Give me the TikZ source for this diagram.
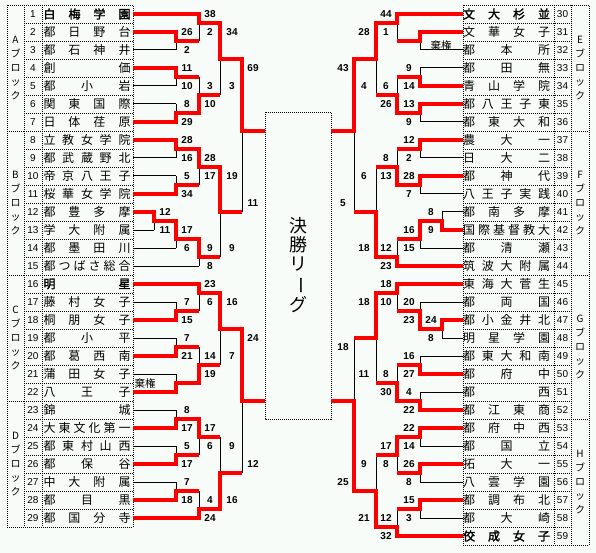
\documentclass[tikz,border=0pt]{standalone}
\usepackage{fontspec}
\setsansfont{Liberation Sans}
\newfontfamily\jp[AutoFakeBold=2]{Noto Sans CJK JP}
\definecolor{paper}{RGB}{248,252,248}
\definecolor{winred}{RGB}{255,0,0}

\makeatletter
\def\spr@ad#1#2\@nil{#1\ifx\relax#2\relax\else\hfill\spr@ad#2\@nil\fi}
\newcommand\spreadname[1]{\edef\sp@nm{#1}\makebox[87pt][s]{\expandafter\spr@ad\sp@nm\@nil}}
\makeatother

\tikzset{
	bk/.style={black, line width=1pt},
	win/.style={winred, line width=4pt},
	cell/.style={black, line width=0.8pt, dash pattern=on 1pt off 1pt},
	score/.style={font=\sffamily\bfseries\fontsize{10}{10}\selectfont, inner sep=0pt},
	num/.style={font=\sffamily\fontsize{10}{10}\selectfont, inner sep=0pt},
	team/.style={font=\jp\fontsize{12}{12}\selectfont, inner sep=0pt},
	blk/.style={font=\jp\fontsize{10}{14}\selectfont, align=center, inner sep=0pt},
}

\begin{document}
\begin{tikzpicture}[x=1pt, y=-1pt]
	\fill[paper] (0,0) rectangle (596,553);
	\useasboundingbox (0,0) rectangle (596,553);
	% tables
	\draw[cell] (7,5) rectangle (133,527);
	\draw[cell] (24,5) -- (24,527) (42,5) -- (42,527);
	\foreach \k in {1,...,28} \draw[cell] (24,{5+18*\k}) -- (133,{5+18*\k});
	\foreach \y in {131,275,401} \draw[cell] (7,\y) -- (24,\y);
	\draw[cell] (463,5) rectangle (589,545);
	\draw[cell] (554,5) -- (554,545) (571,5) -- (571,545);
	\foreach \k in {1,...,29} \draw[cell] (463,{5+18*\k}) -- (571,{5+18*\k});
	\foreach \y in {131,275,419} \draw[cell] (571,\y) -- (589,\y);
	\draw[cell] (265,112) rectangle (331,419);
	% bracket, horizontal lines
	\foreach \xa/\xb/\ys in {133/199/{14,266,284,518}, 133/176/{32,50,68,86,104,122,140,158,176,194,248,302,320,338,356,374,392,410,428,446,464,482,500},
		133/154/{212,230}, 154/176/{221}, 176/199/{41,77,113,149,185,239,311,347,383,419,455,491}, 199/220/{23,95,167,257,293,365,437,509},
		220/242/{59,212,329,473}, 242/265/{131,401},
		463/397/{14,266,284,536}, 463/420/{32,50,68,86,104,122,140,158,176,194,248,302,356,374,392,410,428,446,464,482,500,518},
		463/442/{212,230,320,338}, 442/420/{221,329}, 420/397/{41,77,113,149,185,239,311,365,401,437,473,509}, 397/376/{23,95,167,257,293,383,455,527},
		376/354/{59,212,338,491}, 354/331/{131,401}}
		\foreach \y in \ys \draw[bk] (\xa,\y) -- (\xb,\y);
	% bracket, vertical lines
	\foreach \x/\spans in {154/{212/230}, 176/{32/50,68/86,104/122,140/158,176/194,221/248,302/320,338/356,374/392,410/428,446/464,482/500},
		199/{14/41,77/113,149/185,239/266,284/311,347/383,419/455,491/518}, 220/{23/95,167/257,293/365,437/509}, 242/{59/212,329/473},
		442/{212/230,320/338}, 420/{32/50,68/86,104/122,140/158,176/194,221/248,302/329,356/374,392/410,428/446,464/482,500/518},
		397/{14/41,77/113,149/185,239/266,284/311,365/401,437/473,509/536}, 376/{23/95,167/257,293/383,455/527}, 354/{59/212,338/491}}
		\foreach \a/\b in \spans \draw[bk] (\x,\a) -- (\x,\b);
	% winners, left
	\draw[win] (133,14) -- (199,14) -- (199,23) -- (220,23) -- (220,59) -- (242,59) -- (242,131) -- (265,131);
	\draw[win] (133,32) -- (176,32) -- (176,41) -- (199,41);
	\draw[win] (133,68) -- (176,68) -- (176,77) -- (199,77);
	\draw[win] (133,122) -- (176,122) -- (176,113) -- (199,113) -- (199,95) -- (220,95);
	\draw[win] (133,140) -- (176,140) -- (176,149) -- (199,149) -- (199,167) -- (220,167) -- (220,212) -- (242,212);
	\draw[win] (133,194) -- (176,194) -- (176,185) -- (199,185);
	\draw[win] (133,212) -- (154,212) -- (154,221) -- (176,221) -- (176,239) -- (199,239) -- (199,257) -- (220,257);
	\draw[win] (133,284) -- (199,284) -- (199,293) -- (220,293) -- (220,329) -- (242,329) -- (242,401) -- (265,401);
	\draw[win] (133,320) -- (176,320) -- (176,311) -- (199,311);
	\draw[win] (133,356) -- (176,356) -- (176,347) -- (199,347);
	\draw[win] (133,392) -- (176,392) -- (176,383) -- (199,383) -- (199,365) -- (220,365);
	\draw[win] (133,428) -- (176,428) -- (176,419) -- (199,419) -- (199,437) -- (220,437);
	\draw[win] (133,464) -- (176,464) -- (176,455) -- (199,455);
	\draw[win] (133,500) -- (176,500) -- (176,491) -- (199,491);
	\draw[win] (133,518) -- (199,518) -- (199,509) -- (220,509) -- (220,473) -- (242,473);
	% winners, right
	\draw[win] (463,14) -- (397,14) -- (397,23) -- (376,23) -- (376,59) -- (354,59) -- (354,131) -- (331,131);
	\draw[win] (463,32) -- (420,32) -- (420,41) -- (397,41);
	\draw[win] (463,86) -- (420,86) -- (420,77) -- (397,77);
	\draw[win] (463,104) -- (420,104) -- (420,113) -- (397,113) -- (397,95) -- (376,95);
	\draw[win] (463,140) -- (420,140) -- (420,149) -- (397,149);
	\draw[win] (463,176) -- (420,176) -- (420,185) -- (397,185) -- (397,167) -- (376,167);
	\draw[win] (463,230) -- (442,230) -- (442,221) -- (420,221) -- (420,239) -- (397,239);
	\draw[win] (463,266) -- (397,266) -- (397,257) -- (376,257) -- (376,212) -- (354,212);
	\draw[win] (463,284) -- (397,284) -- (397,293) -- (376,293) -- (376,338) -- (354,338);
	\draw[win] (463,320) -- (442,320) -- (442,329) -- (420,329) -- (420,311) -- (397,311);
	\draw[win] (463,374) -- (420,374) -- (420,365) -- (397,365);
	\draw[win] (463,410) -- (420,410) -- (420,401) -- (397,401) -- (397,383) -- (376,383);
	\draw[win] (463,428) -- (420,428) -- (420,437) -- (397,437) -- (397,455) -- (376,455);
	\draw[win] (463,464) -- (420,464) -- (420,473) -- (397,473);
	\draw[win] (463,500) -- (420,500) -- (420,509) -- (397,509);
	\draw[win] (463,536) -- (397,536) -- (397,527) -- (376,527) -- (376,491) -- (354,491) -- (354,401) -- (331,401);
	% teams
	\foreach \nm [count=\k] in {白梅学園,都日野台,都石神井,創価,都小岩,関東国際,日体荏原,立教女学院,都武蔵野北,帝京八王子,桜華女学院,都豊多摩,学大附属,都墨田川,都つばさ総合,
		明星,藤村女子,桐朋女子,都小平,都葛西南,蒲田女子,八王子,錦城,大東文化第一,都東村山西,都保谷,中大附属,都目黒,都国分寺} {
		\node[num] (n\k) at (33,{18*\k-4}) {\k};
		\node[team] (t\k) at (87,{18*\k-4}) {\ifnum\k=1\bfseries\fi\ifnum\k=16\bfseries\fi\spreadname{\nm}};
	}
	\foreach \nm [count=\i, evaluate=\i as \k using int(\i+29)] in {文大杉並,文華女子,都本所,都田無,青山学院,都八王子東,都東大和,農大一,日大二,都神代,八王子実践,都南多摩,国際基督教大,都清瀬,筑波大附属,
		東海大菅生,都両国,都小金井北,明星学園,都東大和南,都府中,都西,都江東商,都府中西,都国立,拓大一,八雲学園,都調布北,都大崎,佼成女子} {
		\node[num] (n\k) at (562.5,{18*\i-4}) {\k};
		\node[team] (t\k) at (506.5,{18*\i-4}) {\ifnum\k=30\bfseries\fi\ifnum\k=59\bfseries\fi\spreadname{\nm}};
	}
	% blocks
	\foreach \b/\x/\y in {A/15.5/68, B/15.5/203, C/15.5/338, D/15.5/464, E/580/68, F/580/203, G/580/347, H/580/482}
		\node[blk] (blk\b) at (\x,\y) {\b\\ブ\\ロ\\ッ\\ク};
	\node[font=\jp\fontsize{18}{19}\selectfont, align=center, inner sep=0pt] (final) at (298,265) {決\\勝\\リ\\\rotatebox[origin=c]{-90}{ー}\\グ};
	\node[team, font=\jp\fontsize{10.5}{10.5}\selectfont] (wo1) at (145,383) {棄権};
	\node[team, font=\jp\fontsize{10.5}{10.5}\selectfont] (wo2) at (441,45) {棄権};
	% scores
	\foreach \x/\y/\s [count=\i] in {187/32/26, 187/50/2, 187/68/11, 187/86/10, 187/104/8, 187/122/29, 187/140/28, 187/158/16, 187/176/5, 187/194/34,
		165/212/12, 165/230/11, 187/230/17, 187/248/6, 187/302/7, 187/320/15, 187/338/7, 187/356/21,
		187/410/8, 187/428/17, 187/446/5, 187/464/17, 187/482/7, 187/500/18,
		210/14/38, 210/32/2, 210/86/3, 210/104/10, 210/158/28, 210/176/17, 210/248/9, 210/266/8,
		210/284/23, 210/302/6, 210/356/14, 210/374/19, 210/428/17, 210/446/6, 210/500/4, 210/518/24,
		232/32/34, 232/86/3, 232/176/19, 232/248/9, 232/302/16, 232/356/7, 232/446/9, 232/500/16,
		253/68/69, 253/203/11, 253/338/24, 253/464/12,
		409/68/9, 409/86/14, 409/104/13, 409/122/9, 409/140/12, 409/158/2, 409/176/28, 409/194/7,
		431/212/8, 431/230/9, 409/230/16, 409/248/15, 409/302/20, 409/320/23, 431/320/24, 431/338/8,
		409/356/16, 409/374/27, 409/392/4, 409/410/22, 409/428/22, 409/446/14, 409/464/26, 409/482/8, 409/500/15, 409/518/3,
		386/14/44, 386/32/1, 386/86/6, 386/104/26, 386/158/8, 386/176/13, 386/248/12, 386/266/23,
		386/284/18, 386/302/10, 386/374/8, 386/392/30, 386/446/17, 386/464/8, 386/518/12, 386/536/32,
		364/32/28, 364/86/4, 364/176/6, 364/248/18, 364/302/18, 364/374/11, 364/464/9, 364/518/21,
		343/68/43, 343/203/5, 343/347/18, 343/482/25}
		\node[score] (sc\i) at (\x,\y) {\s};
\end{tikzpicture}
\end{document}
